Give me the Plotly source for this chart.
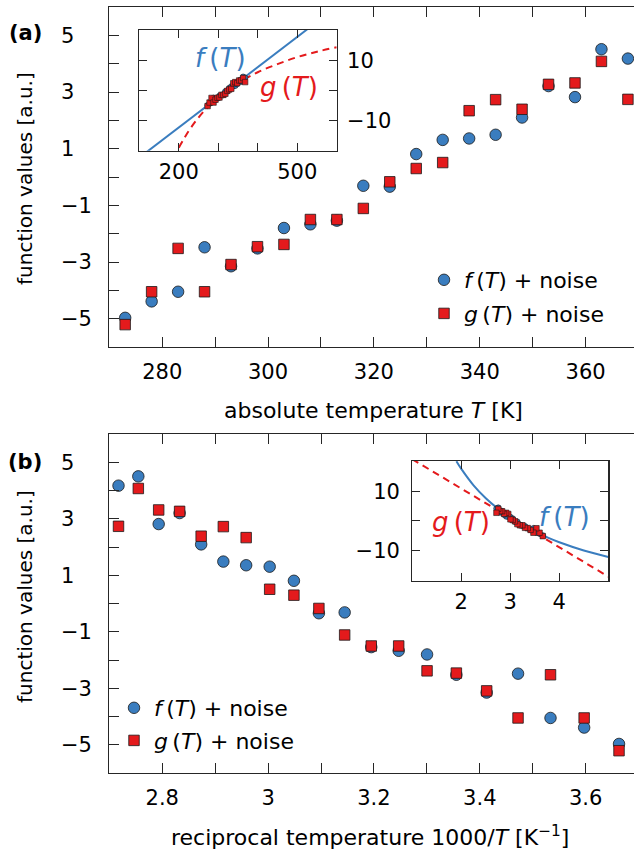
import plotly.graph_objects as go

# ---------------- data ----------------
T = [273, 278, 283, 288, 293, 298, 303, 308, 313, 318,
     323, 328, 333, 338, 343, 348, 353, 358, 363, 368]
f_noise = [-4.97, -4.39, -4.05, -2.48, -3.15, -2.52, -1.80, -1.67, -1.54, -0.31,
           -0.34, 0.81, 1.31, 1.36, 1.49, 2.10, 3.21, 2.82, 4.51, 4.18]
g_noise = [-5.21, -4.05, -2.52, -4.05, -3.09, -2.46, -2.38, -1.50, -1.50, -1.11,
           -0.17, 0.30, 0.51, 2.34, 2.73, 2.39, 3.27, 3.32, 4.08, 2.74]
inv_T = [1000.0 / t for t in T]

# model curves shown in the insets
insA_f_T = [100, 600]
insA_f_v = [-22.3, 27.7]
insA_g_T = [200, 225, 250, 275, 300, 350, 400, 450, 500, 550, 600]
insA_g_v = [-19.0, -13.5, -9.0, -5.4, -2.4, 2.4, 6.0, 8.7, 11.0, 12.8, 14.3]
insB_g_x = [1.0, 5.0]
insB_g_v = [21.0, -19.0]
insB_f_x = [1.9, 2.0, 2.25, 2.5, 2.75, 3.0, 3.25, 3.5, 3.75, 4.0, 4.5, 5.0]
insB_f_v = [20.3, 17.7, 12.1, 7.7, 4.1, 1.0, -1.5, -3.7, -5.6, -7.3, -10.1, -12.3]

main_x_ticks_A = [280, 290, 300, 310, 320, 330, 340, 350, 360]
main_x_ticks_B = [2.8, 2.9, 3.0, 3.1, 3.2, 3.3, 3.4, 3.5, 3.6]
main_y_ticks = [-5, -4, -3, -2, -1, 0, 1, 2, 3, 4, 5]

# ---------------- style ----------------
W, H = 634, 856
BLUE = "#3a7dbf"
RED = "#e41a1c"
EDGE = "#1a1a1a"
AX = "#262626"
FONT = "DejaVu Sans"

def px(x):
    return x / W

def py(y):
    return 1 - y / H

F_NAME = "<i>f</i>\u2009(<i>T</i>) + noise"
G_NAME = "<i>g</i>\u2009(<i>T</i>) + noise"

fig = go.Figure()

# ---------------- panel (a) main ----------------
fig.add_trace(go.Scatter(x=T, y=f_noise, mode="markers", xaxis="x", yaxis="y",
                         name=F_NAME, legend="legend", legendgroup="a1",
                         marker=dict(symbol="circle", size=11.5, color=BLUE,
                                     line=dict(color=EDGE, width=0.8))))
fig.add_trace(go.Scatter(x=T, y=g_noise, mode="markers", xaxis="x", yaxis="y",
                         name=G_NAME, legend="legend", legendgroup="a2",
                         marker=dict(symbol="square", size=10.5, color=RED,
                                     line=dict(color=EDGE, width=0.8))))

# ---------------- panel (b) main ----------------
fig.add_trace(go.Scatter(x=inv_T, y=f_noise, mode="markers", xaxis="x2", yaxis="y2",
                         name=F_NAME, legend="legend2", legendgroup="b1",
                         marker=dict(symbol="circle", size=11.5, color=BLUE,
                                     line=dict(color=EDGE, width=0.8))))
fig.add_trace(go.Scatter(x=inv_T, y=g_noise, mode="markers", xaxis="x2", yaxis="y2",
                         name=G_NAME, legend="legend2", legendgroup="b2",
                         marker=dict(symbol="square", size=10.5, color=RED,
                                     line=dict(color=EDGE, width=0.8))))

# ---------------- inset (a) ----------------
fig.add_trace(go.Scatter(x=insA_f_T, y=insA_f_v, mode="lines", xaxis="x3", yaxis="y3",
                         showlegend=False, line=dict(color=BLUE, width=2)))
fig.add_trace(go.Scatter(x=insA_g_T, y=insA_g_v, mode="lines", xaxis="x3", yaxis="y3",
                         showlegend=False, line=dict(color=RED, width=2, dash="7px,5px",
                                                     shape="spline")))
fig.add_trace(go.Scatter(x=T, y=f_noise, mode="markers", xaxis="x3", yaxis="y3",
                         showlegend=False,
                         marker=dict(symbol="circle", size=5.5, color=BLUE,
                                     line=dict(color=EDGE, width=0.6))))
fig.add_trace(go.Scatter(x=T, y=g_noise, mode="markers", xaxis="x3", yaxis="y3",
                         showlegend=False,
                         marker=dict(symbol="square", size=5.5, color=RED,
                                     line=dict(color=EDGE, width=0.6))))

# ---------------- inset (b) ----------------
fig.add_trace(go.Scatter(x=insB_f_x, y=insB_f_v, mode="lines", xaxis="x4", yaxis="y4",
                         showlegend=False, line=dict(color=BLUE, width=2, shape="spline")))
fig.add_trace(go.Scatter(x=insB_g_x, y=insB_g_v, mode="lines", xaxis="x4", yaxis="y4",
                         showlegend=False, line=dict(color=RED, width=2, dash="7px,5px")))
fig.add_trace(go.Scatter(x=inv_T, y=f_noise, mode="markers", xaxis="x4", yaxis="y4",
                         showlegend=False,
                         marker=dict(symbol="circle", size=5.5, color=BLUE,
                                     line=dict(color=EDGE, width=0.6))))
fig.add_trace(go.Scatter(x=inv_T, y=g_noise, mode="markers", xaxis="x4", yaxis="y4",
                         showlegend=False,
                         marker=dict(symbol="square", size=5.5, color=RED,
                                     line=dict(color=EDGE, width=0.6))))

tickfont = dict(family=FONT, size=21, color="black")

def main_x(anchor, tickvals, ticktext, rng):
    return dict(domain=[px(109.3), 1], anchor=anchor, range=rng,
                tickvals=tickvals, ticktext=ticktext, ticks="inside", ticklen=10,
                tickwidth=1, tickcolor=AX, showline=True, linecolor=AX, linewidth=1.2,
                mirror="ticks", showgrid=False, zeroline=False, tickfont=tickfont,
                ticklabelstandoff=6)

# positive labels carry an invisible minus so all labels start at the same x
HID = "<span style='color:rgba(0,0,0,0)'>\u2212</span>"
y_text = ["\u22125", "", "\u22123", "", "\u22121", "", "1" + HID, "", "3" + HID, "", "5" + HID]

def main_y(dom, anchor):
    return dict(domain=dom, anchor=anchor, range=[-6, 6], tickvals=main_y_ticks,
                ticktext=y_text,
                ticks="inside", ticklen=10, tickwidth=1, tickcolor=AX, showline=True,
                linecolor=AX, linewidth=1.2, mirror=False, showgrid=False, zeroline=False,
                tickfont=tickfont, ticklabelstandoff=12)

def right_y(over, anchor):
    return dict(overlaying=over, anchor=anchor, side="right", range=[-6, 6],
                tickvals=main_y_ticks, ticks="inside", ticklen=10, tickwidth=1,
                tickcolor=AX, showticklabels=False, showline=False, showgrid=False,
                zeroline=False)

xa_text = [str(v) if v % 20 == 0 else "" for v in main_x_ticks_A]
xb_text = ["2.8", "", "3", "", "3.2", "", "3.4", "", "3.6"]

inset_common = dict(ticks="inside", ticklen=8, tickcolor=AX, showline=True, linecolor=AX,
                    linewidth=1.2, mirror="ticks", showgrid=False, zeroline=False,
                    tickfont=tickfont)

fig.update_layout(
    width=W, height=H, margin=dict(l=0, r=0, t=0, b=0),
    plot_bgcolor="white", paper_bgcolor="white",
    font=dict(family=FONT, size=21, color="black"),
    xaxis=main_x("y", main_x_ticks_A, xa_text, [270, 369.15]),
    yaxis=main_y([py(347), py(7)], "x"),
    yaxis5=right_y("y", "x"),
    xaxis2=main_x("y2", main_x_ticks_B, xb_text, [2.7, 3.6913]),
    yaxis2=main_y([py(773), py(434.3)], "x2"),
    yaxis6=right_y("y2", "x2"),
    xaxis3=dict(domain=[px(139.3), px(336.7)], anchor="y3", range=[100, 600],
                tickvals=[200, 300, 400, 500], ticktext=["200", "", "", "500"],
                ticklabelstandoff=2, **inset_common),
    yaxis3=dict(domain=[py(150.7), py(30)], anchor="x3", range=[-20, 20], side="right",
                tickvals=[-10, 0, 10], ticktext=["\u221210", "", "10"],
                ticklabelstandoff=5, **inset_common),
    xaxis4=dict(domain=[px(412.3), px(608.3)], anchor="y4", range=[1, 5],
                tickvals=[2, 3, 4], ticktext=["2", "3", "4"],
                ticklabelstandoff=2, **inset_common),
    yaxis4=dict(domain=[py(581), py(460.7)], anchor="x4", range=[-20.5, 20.5],
                tickvals=[-10, 0, 10], ticktext=["\u221210", "", "10"],
                ticklabelstandoff=7, **inset_common),
    legend=dict(x=px(424), y=py(259), xanchor="left", yanchor="top",
                bgcolor="rgba(0,0,0,0)", font=dict(family=FONT, size=22),
                traceorder="grouped", tracegroupgap=2, itemwidth=30),
    legend2=dict(x=px(114), y=py(687), xanchor="left", yanchor="top",
                 bgcolor="rgba(0,0,0,0)", font=dict(family=FONT, size=22),
                 traceorder="grouped", tracegroupgap=1, itemwidth=30),
)

ann = []
def add_text(text, x, y, size=20, color="black", angle=0):
    ann.append(dict(text=text, x=px(x), y=py(y), xref="paper", yref="paper",
                    showarrow=False, xanchor="center", yanchor="middle",
                    textangle=angle, font=dict(family=FONT, size=size, color=color)))

add_text("<b>(a)</b>", 25, 33, size=21)
add_text("<b>(b)</b>", 25, 462, size=21)
add_text("function values [a.u.]", 25, 179, size=20, angle=-90)
add_text("function values [a.u.]", 25, 597, size=20, angle=-90)
add_text("absolute temperature <i>T</i> [K]", 373, 410, size=22)
add_text("reciprocal temperature 1000/<i>T</i> [K<sup>\u22121</sup>]", 370, 836, size=22)
add_text("<i>f</i>\u2009(<i>T</i>)", 220, 58, size=26, color=BLUE)
add_text("<i>g</i>\u2009(<i>T</i>)", 289, 87, size=26, color=RED)
add_text("<i>g</i>\u2009(<i>T</i>)", 461, 522, size=26, color=RED)
add_text("<i>f</i>\u2009(<i>T</i>)", 564, 517, size=26, color=BLUE)
fig.update_layout(annotations=ann)

fig.write_html("out.html",
               config={"displayModeBar": False, "staticPlot": True},
               post_script="document.body.style.margin='0';"
                           "document.body.style.padding='0';"
                           "document.body.style.overflow='hidden';"
                           "document.documentElement.style.overflow='hidden';")
